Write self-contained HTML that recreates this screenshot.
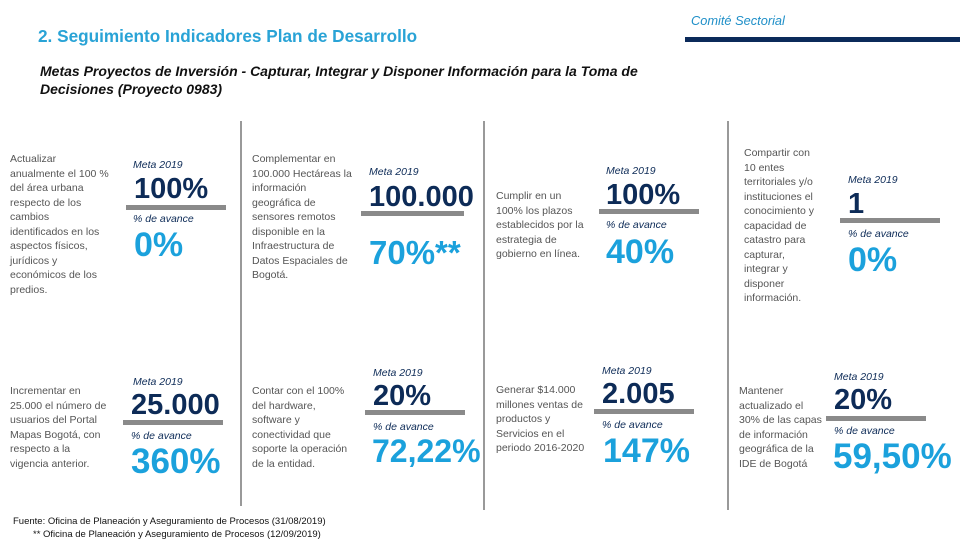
<!DOCTYPE html>
<html><head><meta charset="utf-8"><style>
*{margin:0;padding:0;box-sizing:border-box}
body{width:960px;height:540px;background:#fff;position:relative;overflow:hidden;font-family:"Liberation Sans",sans-serif}
.a{position:absolute;white-space:nowrap}
.desc{position:absolute;font-size:10.5px;line-height:14.5px;color:#555;white-space:nowrap}
.meta{position:absolute;font-size:10.5px;font-style:italic;color:#0d2b57;white-space:nowrap}
.av{position:absolute;font-size:10.5px;font-style:italic;color:#0d2b57;white-space:nowrap}
.goal{position:absolute;font-size:29px;font-weight:bold;color:#0d2b57;line-height:30px;white-space:nowrap}
.pct{position:absolute;font-size:34px;font-weight:bold;color:#1ba1dc;line-height:34px;white-space:nowrap}
.bar{position:absolute;height:5px;width:100px;background:#8a8a8a}
.vd{position:absolute;width:1.5px;background:#999}
</style></head><body>
<div class="a" style="left:38px;top:26px;font-size:17.2px;font-weight:bold;color:#29a3d6">2. Seguimiento Indicadores Plan de Desarrollo</div>
<div class="a" style="left:691px;top:13px;font-size:12.8px;font-style:italic;color:#1f8fc8">Comité Sectorial</div>
<div class="a" style="left:685px;top:37px;width:275px;height:5px;background:#0b2a5a"></div>
<div class="a" style="left:40px;top:63px;font-size:14px;font-style:italic;color:#111;line-height:17.5px;font-weight:bold">Metas Proyectos de Inversión - Capturar, Integrar y Disponer Información para la Toma de<br>Decisiones (Proyecto 0983)</div>

<div class="vd" style="left:240px;top:121px;height:385px"></div>
<div class="vd" style="left:483px;top:121px;height:389px"></div>
<div class="vd" style="left:727px;top:121px;height:389px"></div>

<!-- Panel 1 -->
<div class="desc" style="left:10px;top:152px">Actualizar<br>anualmente el 100 %<br>del área urbana<br>respecto de los<br>cambios<br>identificados en los<br>aspectos físicos,<br>jurídicos y<br>económicos de los<br>predios.</div>
<div class="meta" style="left:133px;top:159px">Meta 2019</div>
<div class="goal" style="left:134px;top:174px">100%</div>
<div class="bar" style="left:126px;top:205px"></div>
<div class="av" style="left:133px;top:213px">% de avance</div>
<div class="pct" style="left:134px;top:228px">0%</div>

<!-- Panel 2 -->
<div class="desc" style="left:252px;top:152px">Complementar en<br>100.000 Hectáreas la<br>información<br>geográfica de<br>sensores remotos<br>disponible en la<br>Infraestructura de<br>Datos Espaciales de<br>Bogotá.</div>
<div class="meta" style="left:369px;top:166px">Meta 2019</div>
<div class="goal" style="left:369px;top:182px">100.000</div>
<div class="bar" style="left:361px;top:211px;width:103px"></div>
<div class="pct" style="left:369px;top:236px;font-size:33px">70%**</div>

<!-- Panel 3 -->
<div class="desc" style="left:496px;top:189px">Cumplir en un<br>100% los plazos<br>establecidos por la<br>estrategia de<br>gobierno en línea.</div>
<div class="meta" style="left:606px;top:165px">Meta 2019</div>
<div class="goal" style="left:606px;top:180px">100%</div>
<div class="bar" style="left:599px;top:209px"></div>
<div class="av" style="left:606px;top:219px">% de avance</div>
<div class="pct" style="left:606px;top:235px">40%</div>

<!-- Panel 4 -->
<div class="desc" style="left:744px;top:146px">Compartir con<br>10 entes<br>territoriales y/o<br>instituciones el<br>conocimiento y<br>capacidad de<br>catastro para<br>capturar,<br>integrar y<br>disponer<br>información.</div>
<div class="meta" style="left:848px;top:174px">Meta 2019</div>
<div class="goal" style="left:848px;top:189px">1</div>
<div class="bar" style="left:840px;top:218px"></div>
<div class="av" style="left:848px;top:228px">% de avance</div>
<div class="pct" style="left:848px;top:243px">0%</div>

<!-- Panel 5 -->
<div class="desc" style="left:10px;top:384px">Incrementar en<br>25.000 el número de<br>usuarios del Portal<br>Mapas Bogotá, con<br>respecto a la<br>vigencia anterior.</div>
<div class="meta" style="left:133px;top:376px">Meta 2019</div>
<div class="goal" style="left:131px;top:390px">25.000</div>
<div class="bar" style="left:123px;top:420px"></div>
<div class="av" style="left:131px;top:430px">% de avance</div>
<div class="pct" style="left:131px;top:445px;font-size:35px">360%</div>

<!-- Panel 6 -->
<div class="desc" style="left:252px;top:384px">Contar con el 100%<br>del hardware,<br>software y<br>conectividad que<br>soporte la operación<br>de la entidad.</div>
<div class="meta" style="left:373px;top:367px">Meta 2019</div>
<div class="goal" style="left:373px;top:381px">20%</div>
<div class="bar" style="left:365px;top:410px"></div>
<div class="av" style="left:373px;top:421px">% de avance</div>
<div class="pct" style="left:372px;top:434px;font-size:32px">72,22%</div>

<!-- Panel 7 -->
<div class="desc" style="left:496px;top:383px">Generar $14.000<br>millones ventas de<br>productos y<br>Servicios en el<br>periodo 2016-2020</div>
<div class="meta" style="left:602px;top:365px">Meta 2019</div>
<div class="goal" style="left:602px;top:379px">2.005</div>
<div class="bar" style="left:594px;top:409px"></div>
<div class="av" style="left:602px;top:419px">% de avance</div>
<div class="pct" style="left:603px;top:434px">147%</div>

<!-- Panel 8 -->
<div class="desc" style="left:739px;top:384px">Mantener<br>actualizado el<br>30% de las capas<br>de información<br>geográfica de la<br>IDE de Bogotá</div>
<div class="meta" style="left:834px;top:371px">Meta 2019</div>
<div class="goal" style="left:834px;top:385px">20%</div>
<div class="bar" style="left:826px;top:416px"></div>
<div class="av" style="left:834px;top:425px">% de avance</div>
<div class="pct" style="left:833px;top:440px;font-size:35px">59,50%</div>

<div class="a" style="left:13px;top:515px;font-size:9.5px;color:#111;line-height:13px">Fuente: Oficina de Planeación y Aseguramiento de Procesos (31/08/2019)<br><span style="padding-left:20px">** Oficina de Planeación y Aseguramiento de Procesos (12/09/2019)</span></div>
</body></html>
